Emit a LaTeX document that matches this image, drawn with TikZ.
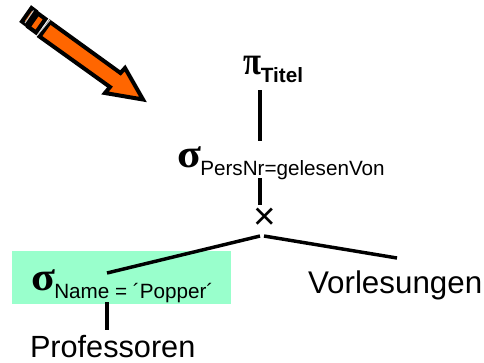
\documentclass[tikz,border=0pt]{standalone}
\usepackage{fontspec}
\setmainfont{Liberation Sans}
\newfontfamily\symbfont{Liberation Serif}
\usetikzlibrary{calc}

\definecolor{arroworange}{HTML}{FF6600}
\definecolor{selectgreen}{HTML}{99FFCC}

\newcommand{\relname}{\fontsize{23}{27}\selectfont}
\newcommand{\opsign}[2]{\scalebox{#1}[1]{\symbfont\bfseries\fontsize{30}{30}\selectfont #2}}
\newcommand{\opsub}[1]{\raisebox{-6pt}{\fontsize{15.5}{18}\selectfont #1}}

\tikzset{
  treeedge/.style={black, line width=2.6pt},
  treelabel/.style={inner sep=0, outer sep=0, anchor=base west},
  arrowpart/.style={draw=black, fill=arroworange, line width=3pt, miter limit=8},
  arrowgap/.style={draw=white!80!black, line width=0.7pt},
}

\begin{document}
\begin{tikzpicture}[x=0.75pt, y=-0.75pt]
      \useasboundingbox (0,0) rectangle (484,362);

      % Marker arrow
      \draw[arrowpart] (31.5,8) -- (22,21.5) -- (26,24.5) -- (35.5,11) -- cycle;
      \draw[arrowpart] (38,13.5) -- (28.5,27) -- (36,32.5) -- (45.5,19) -- cycle;
      \draw[arrowpart] (50,22) -- (39.5,36.5) -- (110,87) -- (105,93) -- (143,99.5) -- (125,68) -- (120.5,73) -- cycle;
      \draw[arrowgap] (33.5,10.5) -- (25,23);
      \draw[arrowgap] (50,20) -- (37.5,35);

      % Selection box, behind its label
      \fill[selectgreen] (12,251) rectangle (231,304);

      % Operators
      \node[treelabel] (projtitel) at (243,74) {\opsign{0.82}{π}\opsub{\bfseries Titel}};
      \node[treelabel] (selpers)   at (177,167) {\opsign{1.1}{σ}\kern-0.5pt\opsub{PersNr=gelesenVon}};
      \node[inner sep=0, outer sep=0] (crossop) at (265,219) {\fontsize{29}{29}\selectfont ×};
      \node[treelabel] (selname)   at (31,290) {\opsign{1.1}{σ}\kern-0.5pt\opsub{Name = ´Popper´}};

      % Relations
      \node[treelabel] (profs)  at (30,357)  {\relname Professoren};
      \node[treelabel] (vorl)   at (308,293) {\fontsize{23.5}{27}\selectfont Vorlesungen};

      \coordinate (jointop)  at (262,236);

      % Tree edges
      \draw[treeedge] ($(projtitel.base west)+(17,16)$) -- ($(selpers.base west)+(83,-26)$);
      \draw[treeedge] ($(selpers.base west)+(83,11)$)   -- ($(crossop.center)+(-5,-14)$);
      \draw[treeedge] ([xshift=-1.5pt]jointop) -- ($(selname.base west)+(76,-17)$);
      \draw[treeedge] ([xshift=1.5pt]jointop)  -- ($(vorl.base west)+(89,-35)$);
      \draw[treeedge] ($(selname.base west)+(76,12)$)   -- ($(profs.base west)+(77,-27)$);
\end{tikzpicture}
\end{document}
